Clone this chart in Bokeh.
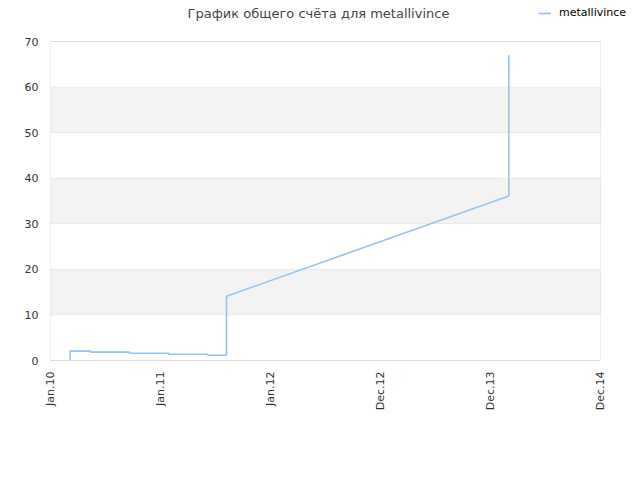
import pandas as pd
from bokeh.plotting import figure
from bokeh.models import (FixedTicker, DatetimeTickFormatter, Legend, LegendItem, Range1d,
                          ColumnDataSource, Label, BoxAnnotation, Grid)
from bokeh.embed import file_html
from bokeh.resources import INLINE
import math

title_text = "График общего счёта для metallivince"
series_name = "metallivince"

dates = ["2010-03-07", "2010-03-07", "2010-05-14", "2010-05-14", "2010-09-20", "2010-09-20",
         "2011-01-28", "2011-01-28", "2011-06-07", "2011-06-07", "2011-08-08", "2011-08-08",
         "2014-03-02", "2014-03-02"]
scores = [0, 2.05, 2.05, 1.83, 1.83, 1.6, 1.6, 1.38, 1.38, 1.16, 1.16, 14.1, 36.1, 67]

x_ticks = ["2010-01-01", "2011-01-01", "2012-01-01", "2012-12-31", "2013-12-31", "2014-12-31"]
y_ticks = [0, 10, 20, 30, 40, 50, 60, 70]

LINE_COLOR = "#94c4f2"
LINE_WIDTH = 1.6
BAND_COLOR = "#f3f3f3"
GRID_COLOR = "#e0e0e0"
BORDER_COLOR = "#d4d4d4"

def ms(d):
    return pd.Timestamp(d).value / 1e6

# layout geometry (pixels): plot box 50..600 x 41..360 inside a 640x480 canvas;
# the frame is extended to the canvas top/right (and 2px left/below) so the
# header texts and the box border are not clipped
W, H = 640, 480
BOX_L, BOX_R, BOX_T, BOX_B = 50, 600, 41, 360
PAD = 2
x0, x1 = ms(x_ticks[0]), ms(x_ticks[-1])
y0, y1 = y_ticks[0], y_ticks[-1]
xpp = (x1 - x0) / (BOX_R - BOX_L)
ypp = (y1 - y0) / (BOX_B - BOX_T)
x_start, x_end = x0 - xpp * PAD, x1 + xpp * (W - BOX_R)
y_start, y_end = y0 - ypp * PAD, y1 + ypp * BOX_T

src = ColumnDataSource(dict(x=pd.to_datetime(dates), y=scores))

p = figure(width=W, height=H, x_axis_type="datetime", output_backend="svg",
           toolbar_location=None, min_border_left=BOX_L - PAD, min_border_right=0,
           min_border_top=0, min_border_bottom=H - BOX_B - PAD,
           x_range=Range1d(x_start, x_end), y_range=Range1d(y_start, y_end))
p.title.visible = False

# alternating bands (10-20, 30-40, 50-60) behind the data
for lo, hi in zip(y_ticks[1::2], y_ticks[2::2]):
    p.add_layout(BoxAnnotation(left=x0, right=x1, bottom=lo, top=hi, level="underlay",
                               fill_color=BAND_COLOR, fill_alpha=1.0,
                               line_color=GRID_COLOR, line_width=1))

r = p.line("x", "y", source=src, line_color=LINE_COLOR, line_width=LINE_WIDTH)

p.xaxis.ticker = FixedTicker(ticks=[ms(d) for d in x_ticks])
fmt = "%b.%y"
p.xaxis.formatter = DatetimeTickFormatter(days=fmt, months=fmt, years=fmt, hours=fmt,
                                          minutes=fmt, seconds=fmt, milliseconds=fmt,
                                          minsec=fmt, hourmin=fmt)
p.xaxis.major_label_orientation = math.pi / 2
p.yaxis.ticker = FixedTicker(ticks=y_ticks)

for ax in (p.xaxis, p.yaxis):
    ax.axis_line_color = None
    ax.major_tick_line_color = None
    ax.minor_tick_line_color = None
    ax.major_tick_out = 0
    ax.major_label_text_font = "DejaVu Sans"
    ax.major_label_text_font_size = "11px"
    ax.major_label_text_color = "#333333"
p.yaxis.major_label_standoff = 10
p.xaxis.major_label_standoff = 9

p.xgrid.grid_line_color = None
p.ygrid.band_fill_color = None
if "cross_bounds" in Grid.properties():
    p.ygrid.bounds = (y0, y1)
    p.ygrid.cross_bounds = (x0, x1)
    p.ygrid.grid_line_color = GRID_COLOR
else:
    p.ygrid.grid_line_color = None
p.outline_line_color = None
p.background_fill_color = "white"
p.border_fill_color = "white"

# plot box border
p.add_layout(BoxAnnotation(left=x0, right=x1, bottom=y0, top=y1,
                           fill_color=None, fill_alpha=0,
                           line_color=BORDER_COLOR, line_width=1))

# title (screen units are measured from the frame's lower-left corner)
frame_l, frame_b = BOX_L - PAD, BOX_B + PAD
p.add_layout(Label(x=318 - frame_l, y=frame_b - 13, x_units="screen", y_units="screen",
                   text=title_text, text_align="center", text_baseline="middle",
                   text_font="DejaVu Sans", text_font_size="13px",
                   text_color="#444444"))

# legend
legend = Legend(items=[LegendItem(label=series_name, renderers=[r])],
                location=(538 - frame_l, frame_b - 19), padding=0, margin=0, spacing=0,
                glyph_width=13, glyph_height=12, label_height=12, label_standoff=8,
                border_line_color=None, background_fill_alpha=0,
                label_text_font="DejaVu Sans", label_text_font_size="11px",
                label_text_color="#000000")
p.add_layout(legend, "center")

open("out.html", "w").write(file_html(p, INLINE))
